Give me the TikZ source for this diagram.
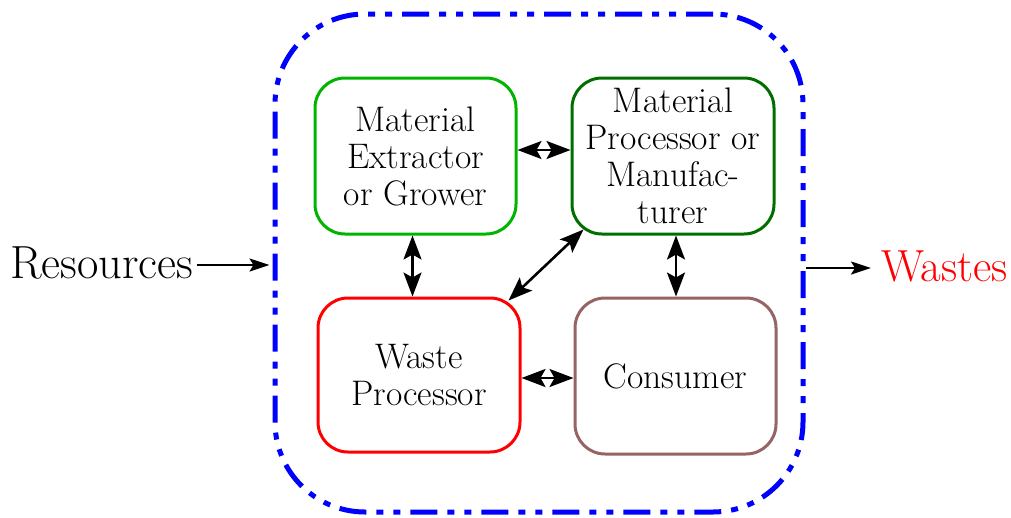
\documentclass[tikz,border=0pt]{standalone}
\usetikzlibrary{arrows.meta,calc}
\definecolor{gx}{RGB}{0,180,0}
\definecolor{dgx}{RGB}{0,110,0}
\definecolor{brx}{RGB}{150,100,100}
\definecolor{blx}{RGB}{0,0,255}
\tikzset{
  box/.style={draw, line width=3pt, rounded corners=30pt, align=center,
    font=\fontsize{35.5}{37}\selectfont, inner sep=0pt},
  dbl/.style={line width=2.6pt, {Stealth[length=24pt,width=18pt,inset=5pt]}-{Stealth[length=24pt,width=18pt,inset=5pt]}},
  sgl/.style={line width=2pt, -{Stealth[length=20pt,width=13pt,inset=4pt]}},
  big/.style={font=\fontsize{46.5}{52}\selectfont, inner sep=0pt}
}
\begin{document}
\begin{tikzpicture}[x=1pt,y=-1pt]
\useasboundingbox (0,0) rectangle (1011,517);
\node[draw=blx, line width=5pt, rounded corners=90pt, minimum width=528pt, minimum height=498pt,
  dash pattern=on 27pt off 10pt on 7pt off 10pt on 7pt off 10pt, inner sep=0pt] (sys) at (539,263) {};
\node[box, draw=gx, minimum width=201pt, minimum height=156pt] (g) at (415.5,156) {Material\\Extractor\\or Grower};
\node[box, draw=dgx, minimum width=202pt, minimum height=156pt] (dg) at (673,156) {Material\\Processor or\\Manufac-\\turer};
\node[box, draw=red, minimum width=202pt, minimum height=154pt] (r) at (419,375) {Waste\\Processor};
\node[box, draw=brx, minimum width=201pt, minimum height=156pt] (c) at (675.5,376) {Consumer};
\node[big, anchor=west] (res) at (10,263) {Resources};
\node[big, anchor=west, text=red, font=\fontsize{45}{52}\selectfont] (was) at (881,266) {Wastes};
\draw[dbl] ([yshift=6pt]g.east) -- ([yshift=6pt]g.east -| dg.west);
\draw[dbl] ([xshift=-3pt]g.south) -- ([xshift=-3pt]g.south |- r.north);
\draw[dbl] ([xshift=3pt]dg.south) -- ([xshift=3pt]dg.south |- c.north);
\draw[dbl] ($(dg.south west)+(13,-6)$) -- ($(r.north east)+(-13,4)$);
\draw[dbl] ([yshift=-3pt]r.east) -- ([yshift=-3pt]r.east -| c.west);
\draw[sgl] ([xshift=3pt,yshift=-2pt]res.east) -- ([xshift=-3pt,yshift=-2pt]res.east -| sys.west);
\draw[sgl] ([yshift=-5pt]sys.east) -- ([xshift=-10pt,yshift=-2pt]was.west);
\end{tikzpicture}
\end{document}
